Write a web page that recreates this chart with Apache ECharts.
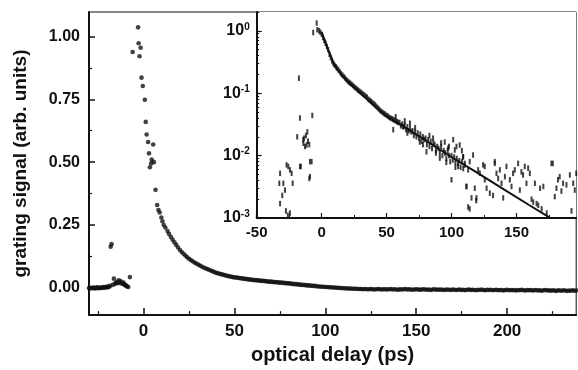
<!DOCTYPE html>
<html><head><meta charset="utf-8">
<script src="https://cdn.jsdelivr.net/npm/echarts@6/dist/echarts.min.js"></script>
<style>html,body{margin:0;padding:0;background:#fff}#c{width:578px;height:370px}</style>
</head><body><div id="c"></div>
<script>
// ---------- main panel data (linear scale) ----------
const mainBaseline = [[-30,0.000],[-29.5,-0.002],[-29,0.001],[-28.5,0.000],[-28,-0.001],[-27.5,0.002],[-27,0.000],[-26.5,-0.002],[-26,0.001],[-25.5,0.003],[-25,0.000],[-24.5,-0.001],[-24,0.002],[-23.5,0.001],[-23,0.000],[-22.5,0.002],[-22,0.004],[-21.5,0.001],[-21,0.003],[-20.5,0.005],[-20,0.002],[-19.5,0.006],[-19,0.004],[-18.5,0.008]];
const mainPrePulse = [[-18.1,0.164],[-17.6,0.174],[-17,0.012],[-16.3,0.037],[-15.8,0.016],[-15.2,0.020],[-14.5,0.024],[-14,0.019],[-13.6,0.030],[-13,0.022],[-12.5,0.026],[-12,0.018],[-11.5,0.017],[-11,0.021],[-10.5,0.013],[-10,0.011],[-9.5,0.008],[-9,0.006],[-8.4,0.004],[-7.5,0.043]];
const mainPeak = [[-6.0,0.938],[-3.0,1.036],[-2.7,0.973],[-2.2,0.921],[-1.6,0.955],[-1.1,0.836],[-0.4,0.803],[0.7,0.748],[1.2,0.66],[1.7,0.61],[2.5,0.58],[3.0,0.535],[3.5,0.48],[4.2,0.495],[4.5,0.51],[5.3,0.57],[5.7,0.50],[6.6,0.39],[7.5,0.33],[8.2,0.31],[8.9,0.30],[9.8,0.28],[10.4,0.265],[11.1,0.25],[12,0.24],[13.2,0.226]];
const decayStartX = 14;   // decay samples every 1 ps from 14 ps
const mainDecay = [
0.215,0.203,0.192,0.181,0.171,0.161,0.151,0.143,0.136,0.129,
0.122,0.116,0.111,0.106,0.101,0.097,0.093,0.089,0.085,0.081,
0.078,0.075,0.072,0.069,0.066,0.063,0.060,0.058,0.056,0.054,
0.052,0.050,0.048,0.046,0.045,0.043,0.042,0.041,0.040,0.039,
0.038,0.037,0.036,0.035,0.034,0.033,0.032,0.031,0.031,0.030,
0.029,0.028,0.028,0.027,0.026,0.025,0.025,0.024,0.023,0.023,
0.022,0.021,0.021,0.020,0.019,0.019,0.018,0.017,0.016,0.015,
0.015,0.014,0.013,0.012,0.012,0.011,0.010,0.010,0.009,0.008,
0.008,0.007,0.006,0.006,0.005,0.005,0.004,0.004,0.003,0.003,
0.002,0.002,0.001,0.001,0.000,0.000,-0.001,-0.001,-0.002,-0.002,
-0.002,-0.003,-0.003,-0.003,-0.004,-0.004,-0.004,-0.005,-0.004,-0.005,
-0.005,-0.004,-0.005,-0.006,-0.005,-0.004,-0.005,-0.006,-0.005,-0.005,
-0.006,-0.005,-0.004,-0.006,-0.005,-0.006,-0.007,-0.005,-0.006,-0.005,
-0.004,-0.006,-0.005,-0.006,-0.007,-0.006,-0.005,-0.006,-0.007,-0.006,
-0.005,-0.006,-0.007,-0.006,-0.008,-0.006,-0.005,-0.007,-0.006,-0.007,
-0.006,-0.008,-0.007,-0.006,-0.007,-0.008,-0.006,-0.007,-0.008,-0.007,
-0.006,-0.008,-0.007,-0.009,-0.007,-0.006,-0.008,-0.007,-0.008,-0.009,
-0.007,-0.008,-0.006,-0.008,-0.009,-0.007,-0.008,-0.007,-0.009,-0.008,
-0.007,-0.009,-0.008,-0.008,-0.010,-0.008,-0.007,-0.009,-0.008,-0.009,
-0.008,-0.010,-0.008,-0.009,-0.007,-0.009,-0.010,-0.008,-0.009,-0.008,
-0.010,-0.009,-0.008,-0.010,-0.009,-0.011,-0.009,-0.008,-0.010,-0.009,
-0.011,-0.009,-0.010,-0.012,-0.009,-0.010,-0.011,-0.009,-0.010,-0.012,
-0.010,-0.011,-0.009,-0.011,-0.010];

// ---------- inset data (log scale) ----------
const insetPre = [[-32,0.0052],[-32.6,0.0036],[-29.5,0.0036],[-30.3,0.0023],[-28.2,0.0028],[-27,0.0071],[-25.7,0.0067],[-24.4,0.0059],[-23.1,0.0052],[-22.3,0.0036],[-27.5,0.0013],[-24.4,0.0012],[-32,0.0017],[-26,0.0011],[-16.7,0.0067],[-9,0.0080],[-9.5,0.0043],[-14.1,0.0158],[-11.5,0.0148],[-17.5,0.174],[-16.7,0.040],[-7.2,0.044],[-18.8,0.020],[-12.1,0.021],[-14.2,0.018],[-9.5,0.015],[-11,0.024],[-12.8,0.014],[-13.5,0.019],[-10.5,0.017],[-16,0.0067],[-7.7,0.008],[-9,0.0046],[-6.5,0.94],[-3.8,1.33],[-3.4,1.04]];
const insetBandStartX = -2;  // band samples every 1 ps from -2 ps
const insetBand = [
1.0,0.95,0.88,0.78,0.70,0.63,0.56,0.50,0.42,0.37,0.33,0.30,
0.28,0.265,0.25,0.235,0.22,0.205,0.195,0.185,0.175,0.165,
0.157,0.150,0.145,0.139,0.133,0.127,0.122,0.117,0.112,0.108,
0.104,0.100,0.096,0.093,0.089,0.086,0.080,0.077,0.074,0.071,
0.068,0.065,0.062,0.059,0.056,0.053,0.051,0.049,0.047,0.046,
0.044,0.043,0.041,0.040,0.039,0.038,0.037,0.036,0.035,0.034,
0.034,0.030,0.032,0.029,0.031,0.026,0.029,0.025,0.027,0.024,
0.025,0.021,0.024,0.020,0.023,0.019,0.022,0.017,0.020,0.018,
0.019,0.015,0.018,0.014,0.017,0.013,0.016,0.015,0.012,0.014,
0.013,0.011,0.014,0.010,0.012,0.011,0.009,0.012,0.010,0.008,
0.010,0.0085,0.0095,0.0078,0.0090,0.0075,0.0083,0.0065,0.0080,0.0062,0.0070];
const insetScatter = [[55.1,0.026],[62.8,0.029],[68,0.033],[75.6,0.0165],[80.7,0.0115],[85.8,0.019],[91,0.0091],[94.8,0.0165],[97.4,0.0131],[102.5,0.0123],[105.1,0.0067],[109,0.0096],[106.3,0.0148],[57,0.042],[64,0.036],[66,0.023],[72,0.028],[78,0.015],[83,0.021],[88,0.011],[92,0.016],[96,0.0078],[98,0.014],[103,0.0065],[108,0.012],[101.3,0.018],[103.8,0.014],[100,0.0041],
[108.9,0.0096],[110.2,0.0075],[114,0.0080],[116.6,0.0102],[112.8,0.0059],[111.5,0.0032],[115.4,0.0021],[114,0.0014],[117.9,0.0030],[119.2,0.0021],[120.5,0.0059],[121.8,0.0052],[124.3,0.0071],[125.6,0.0041],[127,0.0030],[129.5,0.0025],[132,0.0023],[133.3,0.0075],[134.6,0.0052],[135.9,0.0043],[137.2,0.0059],[138.5,0.0036],[139.8,0.0021],[141.1,0.0046],[142.3,0.0067],[144.9,0.0041],[146.2,0.0032],[147.4,0.0052],[148.7,0.0059],[151.3,0.0075],[152.6,0.0028],[153.8,0.0055],[155.1,0.0049],[156.4,0.0067],[157.7,0.0036],[159,0.0063],[160.3,0.0052],[161.6,0.0020],[162.9,0.0018],[164.2,0.0036],[165.5,0.0017],[166.8,0.0016],[168.2,0.0030],[170.7,0.0032],[169.4,0.0014],[173.3,0.0012],[176.9,0.0075],[179.5,0.0022],[180.8,0.0030],[182,0.0041],[183.3,0.0046],[184.6,0.0027],[185.9,0.0036],[188.5,0.0034],[191.1,0.0049],[192.4,0.0013],[194.9,0.0028],[196,0.0052],[193.7,0.0036],
[111.5,0.0032],[112.8,0.0015],[119,0.0019],[125.6,0.0067],[133.3,0.0080],[178,0.0075]];
const insetFit = [[0,0.95],[5,0.50],[10,0.28],[15,0.20],[20,0.155],[25,0.125],[30,0.100],[35,0.080],[40,0.064],[45,0.052],[50,0.043],[55,0.037],[60,0.032],[80,0.0175],[100,0.0095],[120,0.0053],[140,0.0029],[160,0.0016],[175,0.00103]];

// ---------- ticks ----------
const mainXTicks = [0,50,100,150,200];
const mainXMinor = [-25,25,75,125,175,225];
const mainYTicks = [0,0.25,0.5,0.75,1.0];
const mainYMinor = [0.125,0.375,0.625,0.875];
const insetXTicks = [-50,0,50,100,150];
const insetXMinor = [-25,25,75,125,175];
const insetYTicks = [0.001,0.01,0.1,1];
const insetYMinor = [0.002,0.003,0.004,0.005,0.006,0.007,0.008,0.009,0.02,0.03,0.04,0.05,0.06,0.07,0.08,0.09,0.2,0.3,0.4,0.5,0.6,0.7,0.8,0.9,2];

const FONT = '"Liberation Sans", Arial, Helvetica, sans-serif';
const INK = '#111';

const mainData = mainBaseline.concat(mainPrePulse, mainPeak, mainDecay.map((v,i)=>[decayStartX+i, v]));
const insetData = insetPre.concat(insetBand.map((v,i)=>[insetBandStartX+i, v]), insetScatter);

const G0 = {left:89, top:12, right:1.8, bottom:51.5};
const G1 = {left:256.7, top:12, right:1.8, bottom:152};

const chart = echarts.init(document.getElementById('c'));
chart.setOption({
  animation:false,
  backgroundColor:'#fff',
  grid:[
    Object.assign({show:true, borderColor:INK, borderWidth:1, backgroundColor:'#fff'}, G0),
    Object.assign({show:true, borderColor:'transparent', borderWidth:0, backgroundColor:'#fff'}, G1)
  ],
  xAxis:[
    {gridIndex:0, type:'value', min:-30, max:238, position:'bottom',
     axisLine:{onZero:false, lineStyle:{color:INK, width:2}},
     axisTick:{inside:true, length:7, customValues:mainXTicks, lineStyle:{color:INK, width:1.5}},
     axisLabel:{customValues:mainXTicks, margin:8, color:INK, fontSize:17, fontWeight:'bold', fontFamily:FONT},
     splitLine:{show:false},
     name:'optical delay (ps)', nameLocation:'middle', nameGap:23,
     nameTextStyle:{color:INK, fontSize:20, fontWeight:'bold', fontFamily:FONT}},
    {gridIndex:0, type:'value', min:-30, max:238, position:'bottom',
     axisLine:{show:false, onZero:false},
     axisTick:{inside:true, length:4, customValues:mainXMinor, lineStyle:{color:INK, width:1.2}},
     axisLabel:{show:false}, splitLine:{show:false}},
    {gridIndex:1, type:'value', min:-50, max:196, position:'bottom',
     axisLine:{onZero:false, lineStyle:{color:INK, width:2}},
     axisTick:{inside:true, length:5, customValues:insetXTicks, lineStyle:{color:INK, width:1.2}},
     axisLabel:{customValues:insetXTicks, margin:7, color:INK, fontSize:15, fontWeight:'bold', fontFamily:FONT},
     splitLine:{show:false}},
    {gridIndex:1, type:'value', min:-50, max:196, position:'bottom',
     axisLine:{show:false, onZero:false},
     axisTick:{inside:true, length:3, customValues:insetXMinor, lineStyle:{color:INK, width:1}},
     axisLabel:{show:false}, splitLine:{show:false}}
  ],
  yAxis:[
    {gridIndex:0, type:'value', min:-0.108, max:1.097, position:'left',
     axisLine:{onZero:false, lineStyle:{color:INK, width:2}},
     axisTick:{inside:true, length:6, customValues:mainYTicks, lineStyle:{color:INK, width:1.5}},
     axisLabel:{customValues:mainYTicks, margin:9, color:INK, fontSize:16, fontWeight:'bold', fontFamily:FONT,
       formatter:v=>v.toFixed(2)},
     splitLine:{show:false},
     name:'grating signal (arb. units)', nameLocation:'middle', nameGap:59,
     nameTextStyle:{color:INK, fontSize:19, fontWeight:'bold', fontFamily:FONT}},
    {gridIndex:0, type:'value', min:-0.108, max:1.097, position:'left',
     axisLine:{show:false, onZero:false},
     axisTick:{inside:true, length:3, customValues:mainYMinor, lineStyle:{color:INK, width:1.2}},
     axisLabel:{show:false}, splitLine:{show:false}},
    {gridIndex:1, type:'log', logBase:10, min:0.001, max:2, position:'left',
     axisLine:{onZero:false, lineStyle:{color:INK, width:2}},
     axisTick:{inside:true, length:5, customValues:insetYTicks, lineStyle:{color:INK, width:1.2}},
     axisLabel:{customValues:insetYTicks, margin:7, color:INK, fontFamily:FONT,
       formatter:v=>{const e=Math.round(Math.log10(v)); return '{b|10}{s|'+e+'}';},
       rich:{b:{fontSize:16, fontWeight:'bold', fontFamily:FONT, color:INK},
             s:{fontSize:10, fontWeight:'bold', fontFamily:FONT, color:INK, verticalAlign:'bottom', padding:[0,0,8,0]}}},
     splitLine:{show:false}},
    {gridIndex:1, type:'log', logBase:10, min:0.001, max:2, position:'left',
     axisLine:{show:false, onZero:false},
     axisTick:{inside:true, length:2.5, customValues:insetYMinor, lineStyle:{color:INK, width:1}},
     axisLabel:{show:false}, splitLine:{show:false}}
  ],
  series:[
    {type:'scatter', xAxisIndex:0, yAxisIndex:0, data:mainData, symbol:'circle', symbolSize:4.6,
     itemStyle:{color:INK}, silent:true},
    {type:'scatter', xAxisIndex:2, yAxisIndex:2, data:insetData, symbol:'rect', symbolSize:[2,5.5],
     itemStyle:{color:INK}, silent:true, z:5},
    {type:'line', xAxisIndex:2, yAxisIndex:2, data:insetFit, showSymbol:false, symbol:'none',
     lineStyle:{color:INK, width:2}, silent:true, z:6}
  ]
});
</script></body></html>
